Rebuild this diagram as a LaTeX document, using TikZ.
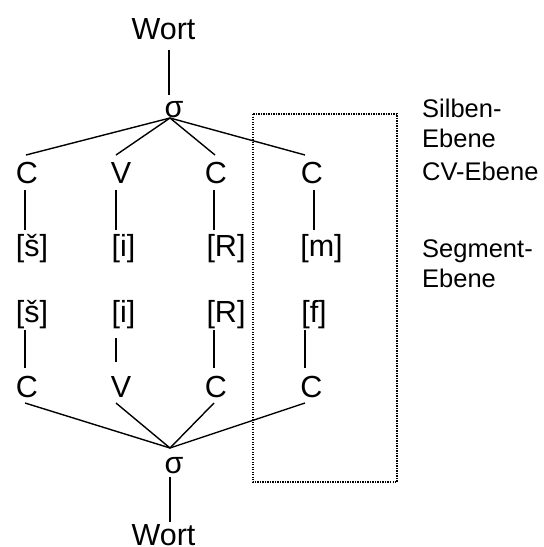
\documentclass[tikz,border=0pt]{standalone}
\usepackage{fontspec}
\setmainfont{Liberation Sans}
\begin{document}
\begin{tikzpicture}[x=1pt,y=-1pt,
  txt/.style={anchor=base,inner sep=0pt,font=\fontsize{30.5}{36}\selectfont},
  lab/.style={anchor=base west,inner sep=0pt,font=\fontsize{25.5}{30}\selectfont},
  ln/.style={line width=1.4pt},
  frame/.style={line width=1.5pt,dash pattern=on 1.4pt off 1.1pt}]
\useasboundingbox (0,0) rectangle (544,547);
% top tree
\node[txt] (w1) at (163.5,39) {Wort};
\node[txt] (s1) at (174,117) {σ};
\node[txt] (c1) at (27,183) {C};
\node[txt] (v1) at (121,183) {V};
\node[txt] (c2) at (216,183) {C};
\node[txt] (c3) at (312,183) {C};
\node[txt] (b1) at (32,256) {[š]};
\node[txt] (b2) at (123.5,256) {[i]};
\node[txt] (b3) at (226,256) {[R]};
\node[txt] (b4) at (321.5,256) {[m]};
% bottom tree
\node[txt] (d1) at (32,322) {[š]};
\node[txt] (d2) at (123.5,322) {[i]};
\node[txt] (d3) at (226,322) {[R]};
\node[txt] (d4) at (314,322) {[f]};
\node[txt] (e1) at (27,397) {C};
\node[txt] (e2) at (121,397) {V};
\node[txt] (e3) at (216,397) {C};
\node[txt] (e4) at (311.5,397) {C};
\node[txt] (s2) at (174,473) {σ};
\node[txt] (w2) at (163.5,545) {Wort};
% labels
\node[lab] (l1) at (422,117) {Silben-};
\node[lab] (l2) at (422,147) {Ebene};
\node[lab] (l3) at (422,180) {CV-Ebene};
\node[lab] (l4) at (422,257) {Segment-};
\node[lab] (l5) at (422,287) {Ebene};
% dotted frame
\draw[frame] (253,114) rectangle (397,482);
% connectors top
\draw[ln] ([shift={(5.5,11)}]w1.base) -- ([shift={(-5,-22)}]s1.base);
\draw[ln] ([shift={(-4,1)}]s1.base) -- ([shift={(-1,-28)}]c1.base);
\draw[ln] ([shift={(-4,1)}]s1.base) -- ([shift={(-5,-28)}]v1.base);
\draw[ln] ([shift={(-4,1)}]s1.base) -- ([shift={(-1,-28)}]c2.base);
\draw[ln] ([shift={(-4,1)}]s1.base) -- ([shift={(-7,-28)}]c3.base);
\draw[ln] ([shift={(-2,7)}]c1.base) -- ([shift={(-7,-26)}]b1.base);
\draw[ln] ([shift={(-5,7)}]v1.base) -- ([shift={(-7.5,-26)}]b2.base);
\draw[ln] ([shift={(-2,7)}]c2.base) -- ([shift={(-12,-26)}]b3.base);
\draw[ln] ([shift={(2,7)}]c3.base) -- ([shift={(-7.5,-26)}]b4.base);
% connectors bottom
\draw[ln] ([shift={(-7,8)}]d1.base) -- ([shift={(-2,-29)}]e1.base);
\draw[ln] ([shift={(-7.5,16)}]d2.base) -- ([shift={(-5,-35)}]e2.base);
\draw[ln] ([shift={(-12,8)}]d3.base) -- ([shift={(-2,-29)}]e3.base);
\draw[ln] ([shift={(-9,8)}]d4.base) -- ([shift={(-6.5,-29)}]e4.base);
\draw[ln] ([shift={(-2,6)}]e1.base) -- ([shift={(-4,-25)}]s2.base);
\draw[ln] ([shift={(-5,6)}]e2.base) -- ([shift={(-4,-25)}]s2.base);
\draw[ln] ([shift={(-2,6)}]e3.base) -- ([shift={(-4,-25)}]s2.base);
\draw[ln] ([shift={(-6.5,6)}]e4.base) -- ([shift={(-4,-25)}]s2.base);
\draw[ln] ([shift={(-4,4)}]s2.base) -- ([shift={(6.5,-23)}]w2.base);
\end{tikzpicture}
\end{document}
